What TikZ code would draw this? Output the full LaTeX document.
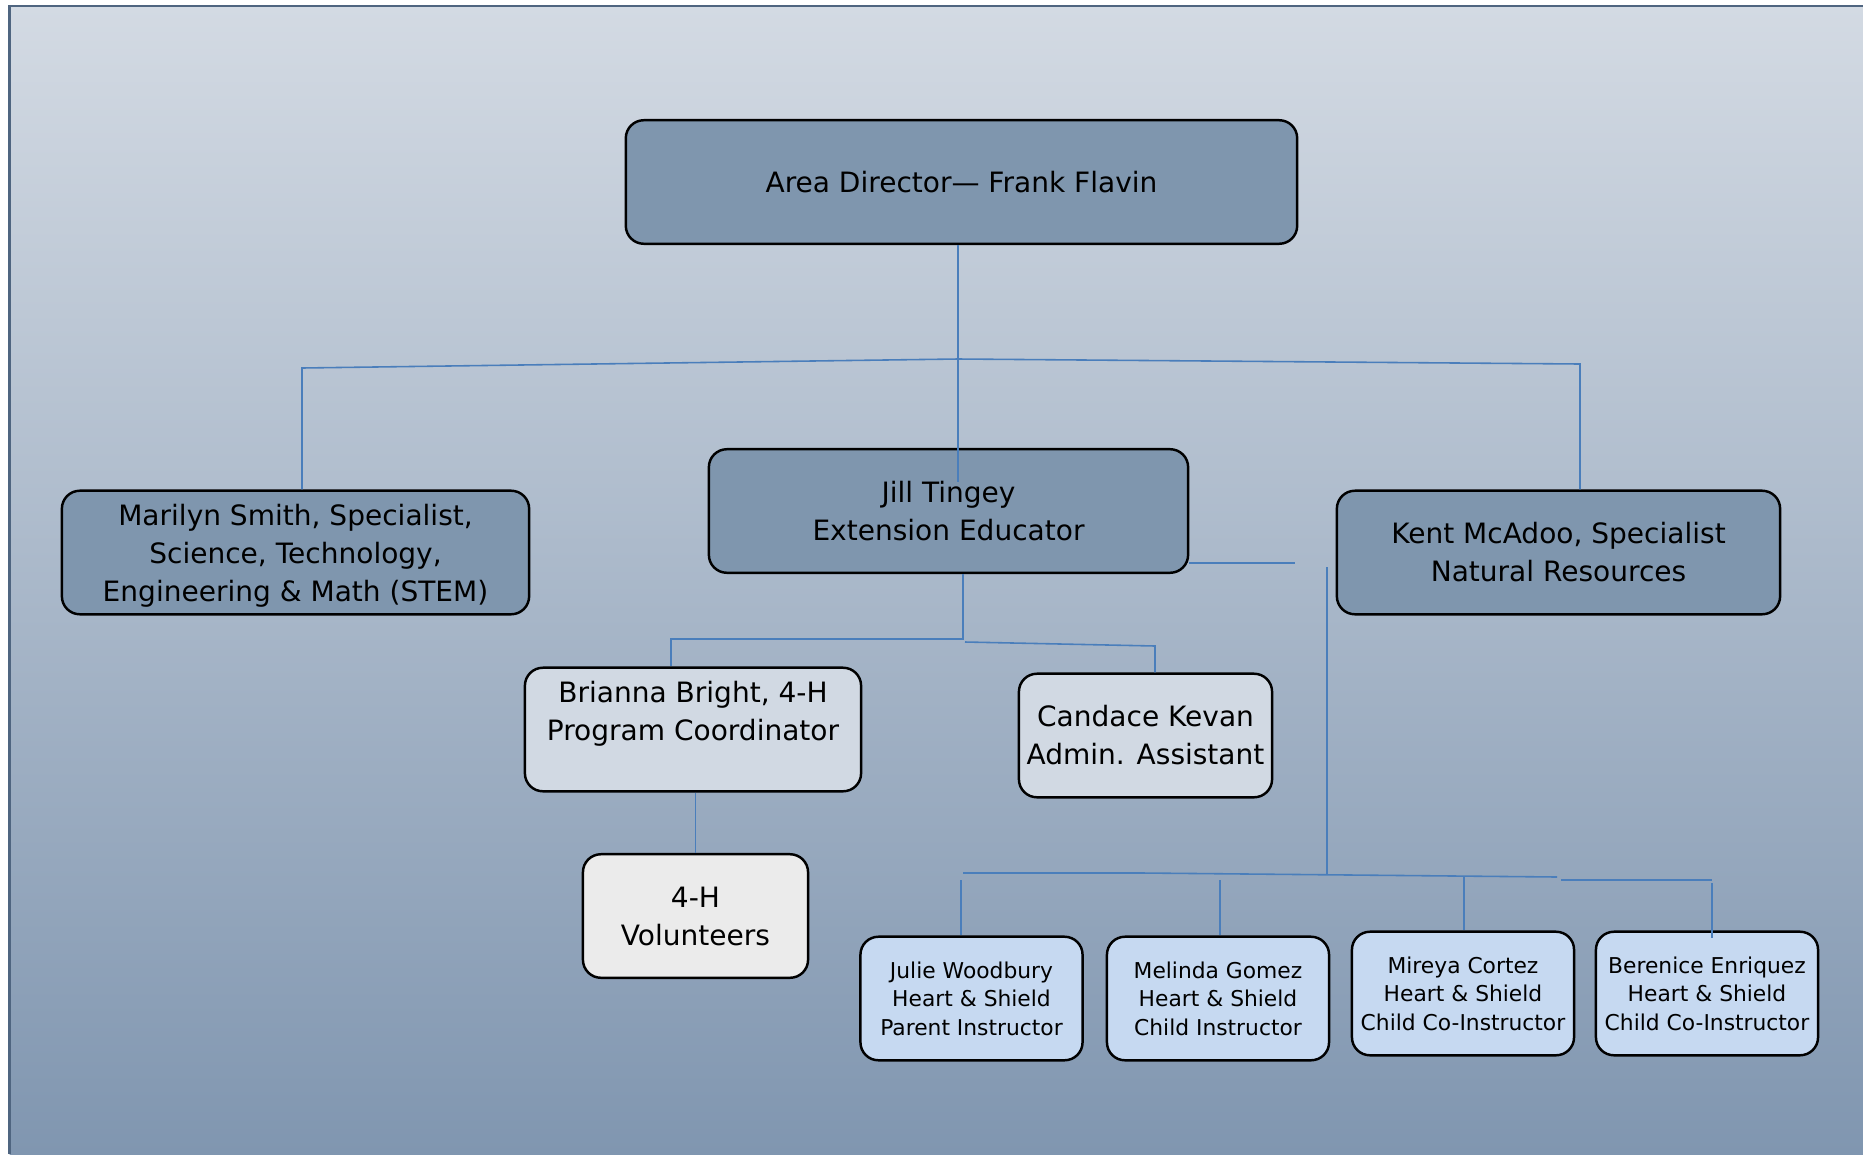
\documentclass[tikz,border=0pt]{standalone}
\usepackage{fontspec}
\setmainfont{DejaVu Sans}
\usepackage{tikz}

\definecolor{bgtop}{HTML}{D3DAE3}
\definecolor{bgbot}{HTML}{8096B0}
\definecolor{framecol}{HTML}{4F6580}
\definecolor{headfill}{HTML}{7F96AE}
\definecolor{paleFill}{HTML}{D1D9E3}
\definecolor{volfill}{HTML}{EBEBEB}
\definecolor{crewfill}{HTML}{C6D9F1}
\definecolor{linkblue}{HTML}{4A7EBB}

\newcommand{\boxfont}{\fontsize{7.97}{10.8}\selectfont}
\newcommand{\crewfont}{\fontsize{6.2}{8.1}\selectfont}

\tikzset{
  orgbox/.style={draw=black, line width=0.7pt, rounded corners=0.18cm,
    align=center, inner sep=0pt, text=black, font=\boxfont,
    minimum height=1.235cm},
  headbox/.style={orgbox, fill=headfill},
  palebox/.style={orgbox, fill=paleFill},
  volbox/.style={orgbox, fill=volfill},
  crewbox/.style={orgbox, fill=crewfill, font=\crewfont,
    minimum width=2.22cm},
  link/.style={draw=linkblue, line width=0.45pt},
}

\begin{document}
\begin{tikzpicture}[x=0.01cm,y=-0.01cm]
        \useasboundingbox (0,0) rectangle (1863,1154);
        % background
        \shade[top color=bgtop, bottom color=bgbot] (9.5,6) rectangle (1863,1154);
        \draw[framecol, line width=0.6pt] (9.5,1154) -- (9.5,6) -- (1863,6);

        % top row
        \node[headbox, minimum width=6.71cm] (dir) at (961.5,182) {Area Director--- Frank Flavin};
        \node[headbox, minimum width=4.67cm, text depth=0cm] (marilyn) at (295.5,552.5) {Marilyn Smith, Specialist,\\Science, Technology,\\Engineering \& Math (STEM)};
        \node[headbox, minimum width=4.79cm] (jill) at (948.5,511) {Jill Tingey\\Extension Educator};
        \node[headbox, minimum width=4.43cm] (kent) at (1558.5,552.5) {Kent McAdoo, Specialist\\Natural Resources};

        % under Jill
        \node[palebox, minimum width=3.36cm, text depth=0.37cm] (brianna) at (693,729.5) {Brianna Bright, 4-H\\Program Coordinator};
        \node[palebox, minimum width=2.53cm] (candace) at (1145.5,735.5) {Candace Kevan\\Admin. Assistant};
        \node[volbox, minimum width=2.25cm] (volunteers) at (695.5,916) {4-H\\Volunteers};

        % Heart & Shield
        \node[crewbox] (julie) at (971.5,998.5) {Julie Woodbury\\Heart \& Shield\\Parent Instructor};
        \node[crewbox] (melinda) at (1218,998.5) {Melinda Gomez\\Heart \& Shield\\Child Instructor};
        \node[crewbox] (mireya) at (1463,993.5) {Mireya Cortez\\Heart \& Shield\\Child Co-Instructor};
        \node[crewbox] (berenice) at (1707,993.5) {Berenice Enriquez\\Heart \& Shield\\Child Co-Instructor};

        % connectors
        \coordinate (hub) at (958,359);
        \draw[link] (dir.south -| hub) -- (958,482);
        \draw[link] (marilyn.north -| 302,0) -- (302,368) -- (hub) -- (1580,364) -- (kent.north -| 1580,0);

        \draw[link] (jill.south -| 963,0) -- (963,639) -- (671,639) -- (brianna.north -| 671,0);
        \draw[link] (965,642) -- (1155,646) -- (candace.north -| 1155,0);
        \draw[link] (brianna.south -| volunteers.north) -- (volunteers.north);

        \draw[link] (jill.east |- 0,563) -- (1295,563);
        \draw[link] (1327,567) -- (1327,874);
        \draw[link] (963,873) -- (1142,873) -- (1557,877);
        \draw[link] (1561,880) -- (1712,880);
        \draw[link] (961,880) -- (julie.north -| 961,0);
        \draw[link] (1220,880) -- (melinda.north -| 1220,0);
        \draw[link] (1464,877) -- (mireya.north -| 1464,0);
        \draw[link] (1712,883) -- (1712,938);
\end{tikzpicture}
\end{document}
